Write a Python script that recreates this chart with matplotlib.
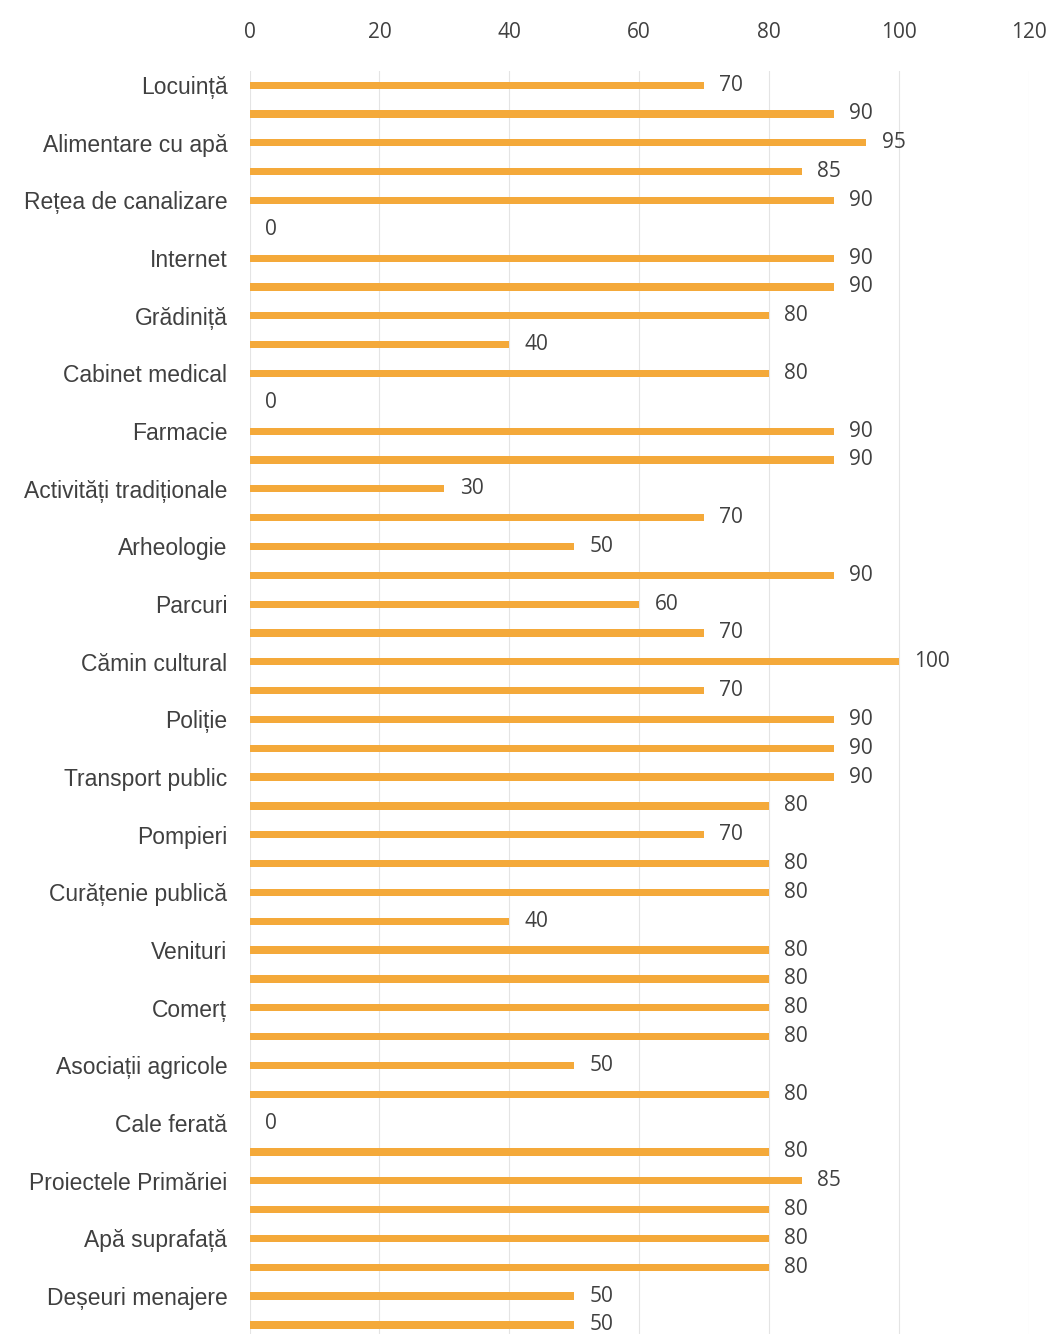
import matplotlib
import matplotlib.pyplot as plt

matplotlib.use("Agg")

# categories shown on the axis (every other bar carries a label)
LABELS = [
    "Locuință", "Alimentare cu apă", "Rețea de canalizare", "Internet",
    "Grădiniță", "Cabinet medical", "Farmacie", "Activități tradiționale",
    "Arheologie", "Parcuri", "Cămin cultural", "Poliție", "Transport public",
    "Pompieri", "Curățenie publică", "Venituri", "Comerț",
    "Asociații agricole", "Cale ferată", "Proiectele Primăriei",
    "Apă suprafață", "Deșeuri menajere",
]
VALUES = [
    70, 90, 95, 85, 90, 0, 90, 90, 80, 40, 80, 0, 90, 90, 30, 70, 50, 90,
    60, 70, 100, 70, 90, 90, 90, 80, 70, 80, 80, 40, 80, 80, 80, 80, 50, 80,
    0, 80, 85, 80, 80, 80, 50, 50,
]
X_TICKS = [0, 20, 40, 60, 80, 100, 120]

BAR_COLOR = "#F4A93A"
TEXT_COLOR = "#404040"

fig = plt.figure(figsize=(10.53, 13.34), dpi=100)
ax = fig.add_axes([0.237, -0.004, 0.74, 0.951])

pos = list(range(len(VALUES)))
ax.barh(pos, VALUES, height=0.25, color=BAR_COLOR)

for y, v in zip(pos, VALUES):
    ax.annotate(f"{v}", (v, y), xytext=(11, 0), textcoords="offset points",
                ha="left", va="center", fontsize=15, color=TEXT_COLOR,
                family="Open Sans")

ax.set_xlim(0, 120)
ax.set_ylim(len(VALUES) - 0.5, -0.5)
ax.set_xticks(X_TICKS)
ax.xaxis.tick_top()
ax.tick_params(axis="x", length=0, pad=20, labelsize=15, labelcolor=TEXT_COLOR)
for t in ax.get_xticklabels():
    t.set_family("Open Sans")

ax.set_yticks(pos[::2])
ax.set_yticklabels(LABELS, fontsize=16.5, color=TEXT_COLOR, family="Liberation Sans")
ax.tick_params(axis="y", length=0, pad=16)

ax.grid(axis="x", color="#e4e4e4", linewidth=0.8)
ax.set_axisbelow(True)
for s in ax.spines.values():
    s.set_visible(False)

fig.savefig("out.png", dpi=100)
